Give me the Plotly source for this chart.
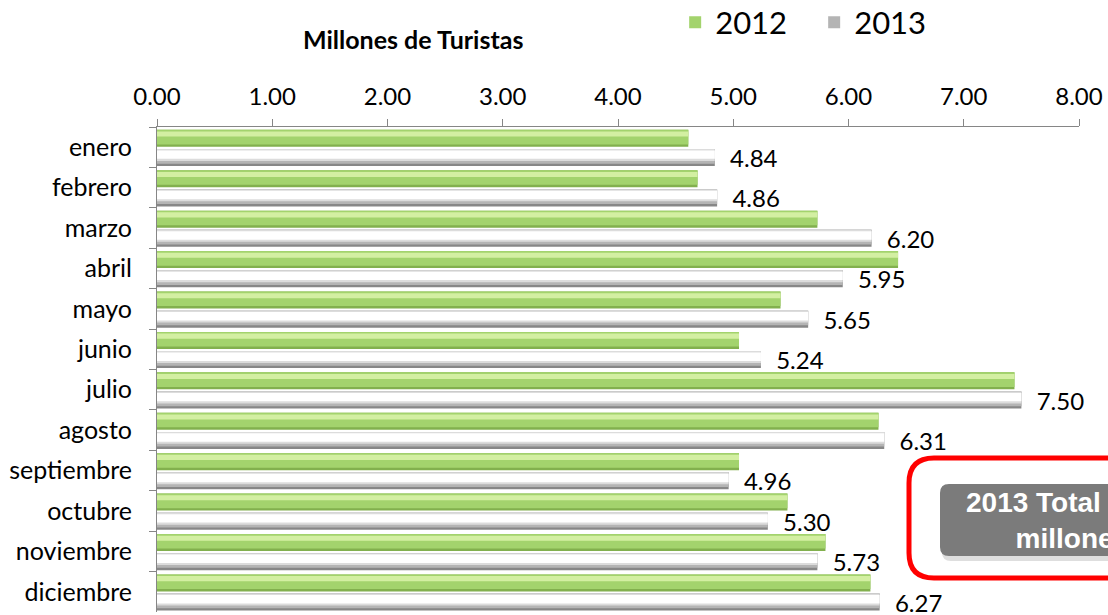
import plotly.graph_objects as go

months = ["enero", "febrero", "marzo", "abril", "mayo", "junio", "julio",
          "agosto", "septiembre", "octubre", "noviembre", "diciembre"]
v2012 = [4.61, 4.69, 5.73, 6.43, 5.41, 5.05, 7.44, 6.26, 5.05, 5.47, 5.80, 6.19]
v2013 = [4.84, 4.86, 6.20, 5.95, 5.65, 5.24, 7.50, 6.31, 4.96, 5.30, 5.73, 6.27]
xticks = [0, 1, 2, 3, 4, 5, 6, 7, 8]
total_text = "2013 Total 68.81<br>millones"

W = 0.42
OG = -0.43   # 2012 band offset (top)
OW = 0.045   # 2013 band offset

fig = go.Figure()

def layers(vals, name, off, bands, legend_idx, text=False):
    # bands: list of (start_frac, frac, color), drawn in order
    for i, (s, f, c) in enumerate(bands):
        kw = {}
        if i == 0 and text:
            kw = dict(text=[f"  {v:.2f}" for v in vals], textposition="outside",
                      constraintext="none",
                      textfont=dict(family="Lato", size=24, color="#000000"),
                      cliponaxis=False)
        fig.add_trace(go.Bar(
            y=months, x=vals, orientation="h", name=name,
            showlegend=(i == legend_idx),
            offset=off + W * s, width=W * f,
            marker=dict(color=c, line=dict(width=0)), hoverinfo="skip", **kw))

layers(v2012, "2012", OG,
       [(0, 1, "#82b04e"), (0, 0.86, "#a3d36d"), (0.1, 0.3, "#d3efa2")], 1)
layers(v2013, "2013", OW,
       [(0, 1, "#878787"), (0, 0.86, "#b4b4b4"), (0, 0.7, "#dcdcdc"),
        (0.08, 0.5, "#ffffff")], 1, text=True)

fig.update_layout(
    width=1108, height=615,
    margin=dict(l=157, r=29, t=127, b=3, autoexpand=False),
    plot_bgcolor="white", paper_bgcolor="white",
    font=dict(family="Lato", color="#000000"),
    barmode="overlay",
    legend=dict(orientation="h", x=0.562, y=1.271, xanchor="left", yanchor="top",
                font=dict(size=31, family="Lato"), bgcolor="rgba(0,0,0,0)",
                traceorder="normal", entrywidth=94),
    xaxis=dict(side="top", range=[0, 8], tickvals=xticks, tickformat=".2f",
               showgrid=False, zeroline=False, showline=True, linecolor="#868686",
               linewidth=1, ticks="outside", ticklen=7, tickcolor="#868686",
               tickfont=dict(size=24, family="Lato"), ticklabelstandoff=4,
               automargin=False),
    yaxis=dict(categoryorder="array", categoryarray=months, range=[11.5, -0.5],
               showgrid=False, zeroline=False, showline=True, linecolor="#868686",
               linewidth=1, ticks="outside", ticklen=7, tickcolor="#868686",
               tickson="boundaries", tickfont=dict(size=25, family="Lato"),
               ticklabelstandoff=19, automargin=False),
)

fig.add_annotation(xref="paper", yref="paper", x=0.278, y=1.181,
                   text="<b>Millones de Turistas</b>", showarrow=False,
                   xanchor="center", yanchor="middle",
                   font=dict(size=25, family="Lato", color="#000000"))

def rrect(x0, y0, x1, y1, rx, ry):
    return (f"M{x0+rx},{y0} L{x1-rx},{y0} Q{x1},{y0} {x1},{y0+ry} "
            f"L{x1},{y1-ry} Q{x1},{y1} {x1-rx},{y1} L{x0+rx},{y1} "
            f"Q{x0},{y1} {x0},{y1-ry} L{x0},{y0+ry} Q{x0},{y0} {x0+rx},{y0} Z")

def px_x(p):
    return (p - 157) / 922.0

def px_y(p):
    return (612 - p) / 485.0

# red outline box
fig.add_shape(type="path", xref="paper", yref="paper",
              path=rrect(px_x(909), px_y(578), px_x(1215), px_y(458), 25/922, 25/485),
              line=dict(color="#ff0000", width=5), fillcolor="rgba(0,0,0,0)")
# shadow
fig.add_shape(type="path", xref="paper", yref="paper",
              path=rrect(px_x(942), px_y(561), px_x(1200), px_y(488), 9/922, 9/485),
              line=dict(width=0), fillcolor="#dedede")
# gray box
fig.add_shape(type="path", xref="paper", yref="paper",
              path=rrect(px_x(940), px_y(556), px_x(1200), px_y(484), 9/922, 9/485),
              line=dict(width=0), fillcolor="#7b7b7b")
fig.add_annotation(xref="paper", yref="paper", x=px_x(1072), y=px_y(520),
                   text="<b>" + total_text + "</b>", showarrow=False,
                   xanchor="center", yanchor="middle",
                   font=dict(size=28, family="Liberation Sans", color="#ffffff"))

fig.write_html("out.html", config={"displayModeBar": False},
               post_script="document.body.style.margin='0px';")
